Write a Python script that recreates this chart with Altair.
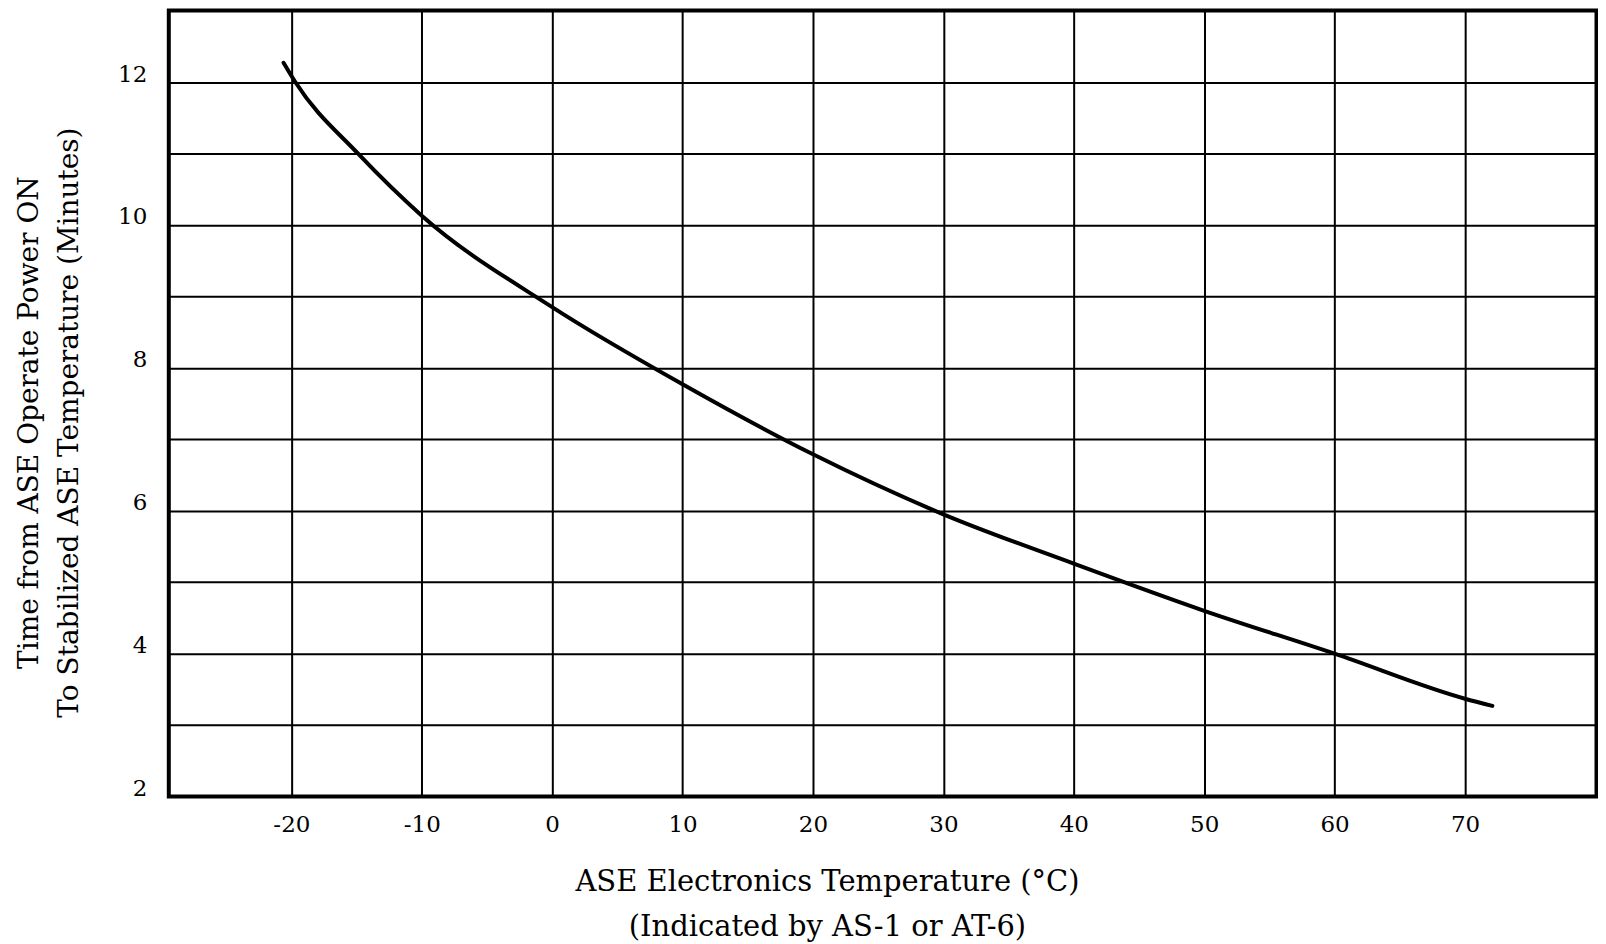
import altair as alt
import pandas as pd

temp_c = [-20.6, -19.7, -14.9, -10, 0, 10, 20, 30, 40, 50, 60, 70, 72.1]
minutes = [12.27, 12.0, 11.0, 10.13, 8.85, 7.77, 6.79, 5.95, 5.26, 4.6, 4.0, 3.37, 3.27]

x_ticks = [-20, -10, 0, 10, 20, 30, 40, 50, 60, 70, 80]
y_ticks = [3, 4, 5, 6, 7, 8, 9, 10, 11, 12, 2]

df = pd.DataFrame({"t": temp_c, "m": minutes})

FONT = "DejaVu Serif"

chart = alt.Chart(df).mark_line(
    color="black", strokeWidth=4, interpolate="monotone", clip=True, strokeCap="round"
).encode(
    x=alt.X("t:Q",
            scale=alt.Scale(domain=[-29.4, 80.2], nice=False, zero=False),
            axis=alt.Axis(
                values=x_ticks,
                labelExpr="datum.value <= 70 ? '' + datum.value : ''",
                grid=True, gridColor="black", gridWidth=2, gridOpacity=1,
                ticks=False, domain=False,
                labelFont=FONT, labelFontSize=23, labelColor="black", labelPadding=17,
                labelFlush=False,
                title=["ASE Electronics Temperature (°C)", "(Indicated by AS-1 or AT-6)"],
                titleFont=FONT, titleFontSize=29, titleFontWeight="normal", titleColor="black",
                titleX=659, titleY=94, titleAlign="center", titleBaseline="alphabetic",
                titleLineHeight=45,
            )),
    y=alt.Y("m:Q",
            scale=alt.Scale(domain=[2, 13], nice=False, zero=False),
            axis=alt.Axis(
                values=y_ticks,
                labelExpr="datum.value % 2 == 0 ? datum.label : ''",
                grid=True, gridColor="black", gridWidth=2, gridOpacity=1,
                ticks=False, domain=False,
                labelFont=FONT, labelFontSize=23, labelColor="black", labelPadding=22,
                labelOffset=-8, labelFlush=False,
                title=["Time from ASE Operate Power ON", "To Stabilized ASE Temperature (Minutes)"],
                titleFont=FONT, titleFontSize=28, titleFontWeight="normal", titleColor="black",
                titleAngle=270, titleX=-131, titleY=412, titleAlign="center",
                titleBaseline="alphabetic", titleLineHeight=40,
            )),
).properties(
    width=1431, height=787,
    padding={"left": 161, "top": 2, "right": 0, "bottom": 145},
    autosize=alt.AutoSizeParams(type="none"),
).configure(
    background="white"
).configure_view(
    stroke="black", strokeWidth=4
)

chart.save("out.html", embed_options={"renderer": "svg", "actions": False})
